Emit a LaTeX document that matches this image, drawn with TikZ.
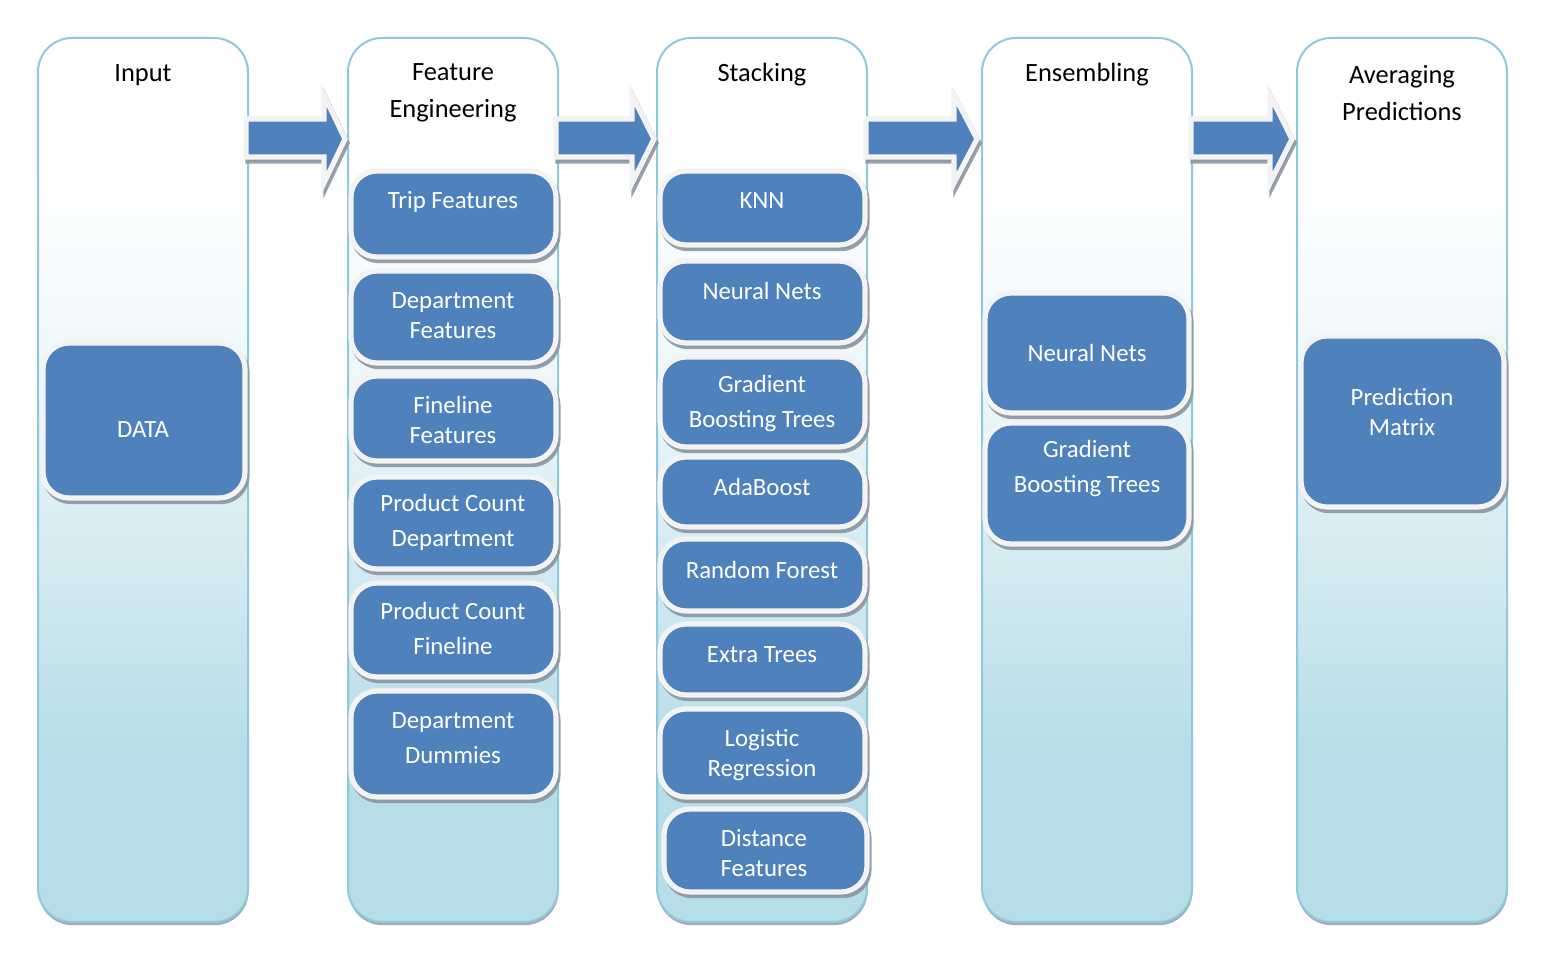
\documentclass[tikz,border=0pt]{standalone}
\usepackage{fontspec}
\setmainfont{Carlito}
\usetikzlibrary{fit,shadows}
\definecolor{boxblue}{HTML}{4F81BD}
\definecolor{colB}{HTML}{B7DEE8}
\definecolor{colM}{HTML}{D3EAF1}
\definecolor{colL}{HTML}{EDF6F9}
\definecolor{colborder}{HTML}{8FCADB}
\definecolor{shadowgray}{HTML}{8C96A2}
\definecolor{rimwhite}{HTML}{F3F3F3}
\pgfdeclareverticalshading{colshade}{100bp}{color(0bp)=(colB); color(35bp)=(colB); color(45bp)=(colM); color(55bp)=(colL); color(68bp)=(white); color(100bp)=(white)}
\tikzset{
  colbox/.style={draw=colborder, line width=1pt, rounded corners=17pt, shading=colshade, inner sep=0pt,
    drop shadow={shadow xshift=0.3pt, shadow yshift=-1.6pt, fill=shadowgray, opacity=0.8}},
  blk/.style={fill=boxblue, draw=rimwhite, line width=2.6pt, rounded corners=13pt, inner sep=0pt,
    drop shadow={shadow xshift=1pt, shadow yshift=-1.8pt, fill=shadowgray, draw=shadowgray, line width=2.6pt, opacity=0.9}},
  barrow/.style={fill=boxblue, draw=rimwhite, line width=2.6pt, line join=miter,
    drop shadow={shadow xshift=1pt, shadow yshift=-2pt, fill=shadowgray, draw=shadowgray, line width=2.6pt, opacity=0.9}},
  ttl/.style={font=\fontsize{13.2}{18.5}\selectfont, align=center, text=black},
  btxt/.style={font=\fontsize{12.4}{15}\selectfont, align=center, text=white},
  btxtw/.style={font=\fontsize{12.4}{17.5}\selectfont, align=center, text=white},
}
\newcommand\blockarrow[4]{\draw[barrow] (#1,119) -- (#2,119) -- (#2,95) -- (#3,139) -- (#2,183) -- (#2,157) -- (#1,157) -- cycle; \coordinate (#4) at (#3,139);}
\begin{document}
\begin{tikzpicture}[x=0.5pt,y=-0.5pt]
\useasboundingbox (0,0) rectangle (1558,974);
\fill[white] (0,0) rectangle (1558,974);
% columns
\node[colbox, fit={(38,38)(248,922)}] (c1) {};
\node[colbox, fit={(348,38)(558,922)}] (c2) {};
\node[colbox, fit={(657,38)(867,922)}] (c3) {};
\node[colbox, fit={(982,38)(1192,922)}] (c4) {};
\node[colbox, fit={(1297,38)(1507,922)}] (c5) {};
% titles
\node[ttl] (t1) at (143,75) {Input};
\node[ttl] (t2) at (453,93) {Feature\\Engineering};
\node[ttl] (t3) at (762,75) {Stacking};
\node[ttl] (t4) at (1087,75) {Ensembling};
\node[ttl] (t5) at (1402,93) {Averaging\\Predictions};
% arrows
\blockarrow{246}{324}{345}{a1}
\blockarrow{556}{632}{654}{a2}
\blockarrow{866}{954}{977}{a3}
\blockarrow{1191}{1270}{1292}{a4}
% column 1
\node[blk, fit={(43,343)(245,498)}] (data) {};
\node[btxt] at (143,430) {DATA};
% column 2
\node[blk, fit={(351,171)(556,257)}] (b21) {};
\node[btxt] at (453,202) {Trip Features};
\node[blk, fit={(351,271)(556,363)}] (b22) {};
\node[btxt] at (453,315.5) {Department\\Features};
\node[blk, fit={(351,376)(556,461)}] (b23) {};
\node[btxt] at (453,419.5) {Fineline\\Features};
\node[blk, fit={(351,477)(556,569)}] (b24) {};
\node[btxtw] at (453,522) {Product Count\\Department};
\node[blk, fit={(351,583)(556,677)}] (b25) {};
\node[btxtw] at (453,628) {Product Count\\Fineline};
\node[blk, fit={(351,691)(556,797)}] (b26) {};
\node[btxtw] at (453,738.5) {Department\\Dummies};
% column 3
\node[blk, fit={(660,171)(865,245)}] (b31) {};
\node[btxt] at (762,201) {KNN};
\node[blk, fit={(660,261)(865,343)}] (b32) {};
\node[btxt] at (762,291) {Neural Nets};
\node[blk, fit={(660,357)(865,447)}] (b33) {};
\node[btxtw] at (762,404) {Gradient\\Boosting Trees};
\node[blk, fit={(660,457)(865,527)}] (b34) {};
\node[btxt] at (762,487) {AdaBoost};
\node[blk, fit={(660,539)(865,611)}] (b35) {};
\node[btxt] at (762,570) {Random Forest};
\node[blk, fit={(660,624)(865,695)}] (b36) {};
\node[btxt] at (762,655) {Extra Trees};
\node[blk, fit={(660,709)(865,797)}] (b37) {};
\node[btxt] at (762,755.5) {Logistic\\Regression};
\node[blk, fit={(664,809)(867,892)}] (b38) {};
\node[btxt] at (764,853) {Distance\\Features};
% column 4
\node[blk, fit={(985,293)(1189,413)}] (b41) {};
\node[btxt] at (1087,353) {Neural Nets};
\node[blk, fit={(985,423)(1189,544)}] (b42) {};
\node[btxtw] at (1087,469) {Gradient\\Boosting Trees};
% column 5
\node[blk, fit={(1301,336)(1504,507)}] (b51) {};
\node[btxt] at (1402,411.5) {Prediction\\Matrix};
\end{tikzpicture}
\end{document}
